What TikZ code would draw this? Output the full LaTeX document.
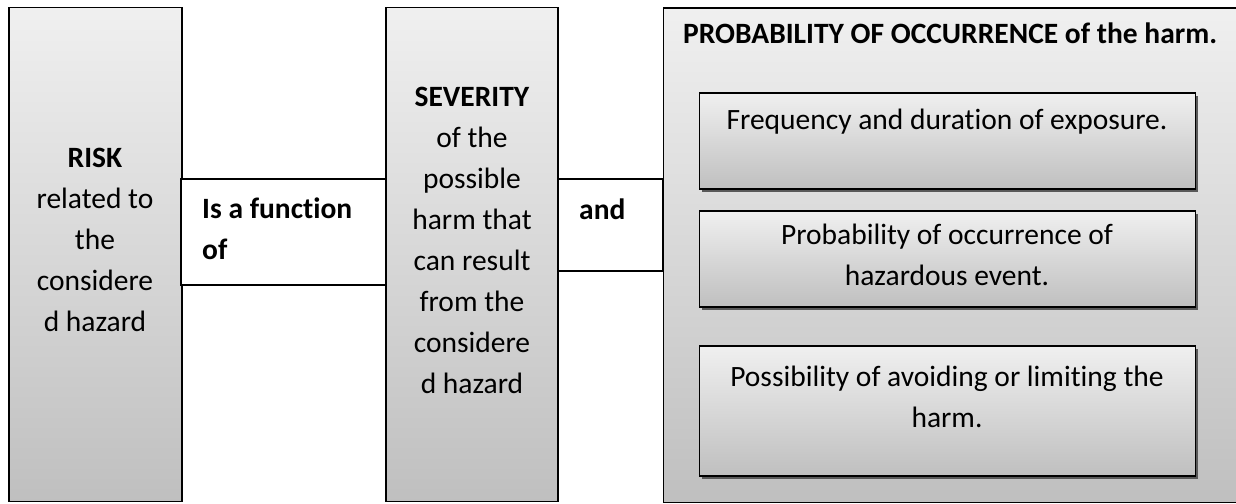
\documentclass[tikz,border=0pt]{standalone}
\usepackage{fontspec}
\setmainfont[Ligatures=NoCommon]{Carlito}
\usetikzlibrary{shadows}
\tikzset{
  bigbox/.style={draw=black, line width=1.3pt, top color=gray!12, bottom color=gray!50, inner sep=0pt},
  linkbox/.style={draw=black, line width=1.3pt, fill=white, inner sep=0pt},
  subbox/.style={draw=black, line width=1.8pt, top color=gray!12, bottom color=gray!50, inner sep=0pt,
    drop shadow={shadow xshift=2pt, shadow yshift=-2.5pt, fill=black!65, opacity=1}},
  txt/.style={font=\fontsize{29.5}{41}\selectfont, align=center, inner sep=0pt},
  btxt/.style={font=\fontsize{29.5}{41}\selectfont\bfseries, align=left, inner sep=0pt}
}
\begin{document}
\begin{tikzpicture}[x=1pt, y=-1pt]
\useasboundingbox (0,0) rectangle (1236,503);
\fill[white] (0,0) rectangle (1236,503);
% outer boxes
\node[bigbox, minimum width=173pt, minimum height=494pt] (risk) at (95.5,254.5) {};
\node[linkbox, minimum width=206pt, minimum height=106pt] (func) at (284,232) {};
\node[bigbox, minimum width=172pt, minimum height=494pt] (sev) at (472,254.5) {};
\node[linkbox, minimum width=105pt, minimum height=92pt] (andbox) at (610.5,225) {};
\node[bigbox, minimum width=585pt, minimum height=494pt, anchor=north west] (prob) at (663,7.5) {};
% sub boxes
\node[subbox, minimum width=496pt, minimum height=96pt] (b1) at (947.5,141) {};
\node[subbox, minimum width=496pt, minimum height=96pt] (b2) at (947.5,259) {};
\node[subbox, minimum width=496pt, minimum height=130pt] (b3) at (947.5,411) {};
% texts
\node[txt] (trisk) at (95,240) {\textbf{RISK}\\related to\\the\\considere\\d hazard};
\node[btxt, anchor=west] (tfunc) at (202,229) {Is a function\\of};
\node[txt] (tsev) at (472,240) {\textbf{SEVERITY}\\of the\\possible\\harm that\\can result\\from the\\considere\\d hazard};
\node[btxt, anchor=west] (tand) at (579,209) {and};
\node[btxt, anchor=west] (tprob) at (683,33) {PROBABILITY OF OCCURRENCE of the harm.};
\node[txt] (t1) at (947,122) {Frequency and duration of exposure.};
\node[txt] (t2) at (947,255) {Probability of occurrence of\\hazardous event.};
\node[txt] (t3) at (947,397) {Possibility of avoiding or limiting the\\harm.};
\end{tikzpicture}
\end{document}
